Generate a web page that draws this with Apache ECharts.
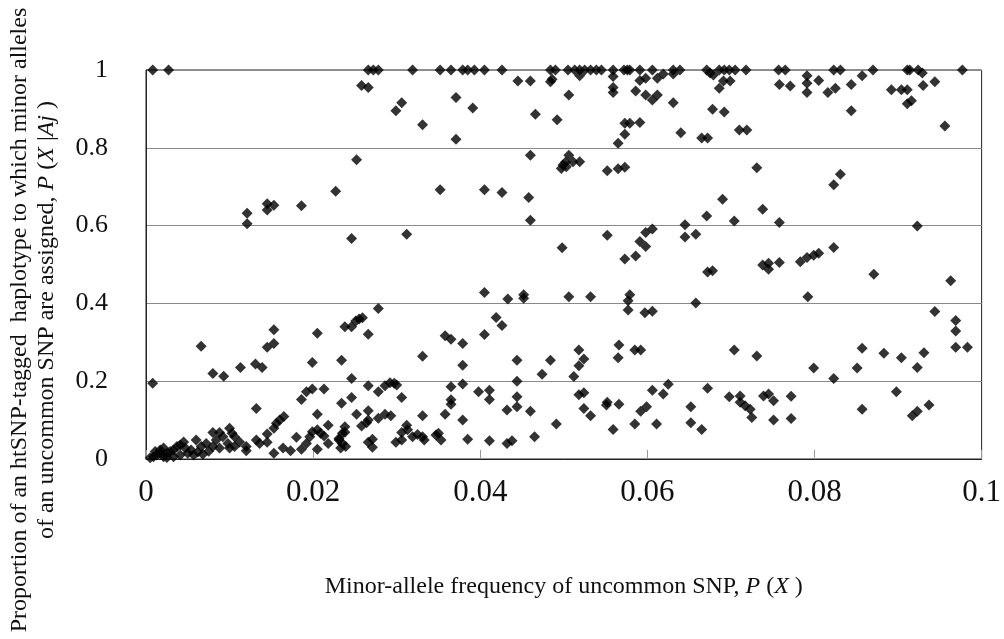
<!DOCTYPE html>
<html>
<head>
<meta charset="utf-8">
<title>htSNP haplotype scatter</title>
<script src="https://cdn.jsdelivr.net/npm/echarts@6/dist/echarts.min.js"></script>
<style>
  html, body { margin: 0; padding: 0; background: #fff; }
  #chart { width: 1004px; height: 639px; }
</style>
</head>
<body>
<div id="chart"></div>
<script>
// x values of the points that sit on P(X|Aj) = 1
const topRowX = [
  0.0008, 0.0027, 0.0266, 0.0272, 0.0278, 0.0319, 0.0352, 0.0365, 0.0379, 0.0385,
  0.0393, 0.0405, 0.0426, 0.0484, 0.0490, 0.0505, 0.0513, 0.0519, 0.0525, 0.0532,
  0.0539, 0.0545, 0.0559, 0.0572, 0.0576, 0.0579, 0.0591, 0.0606, 0.0631, 0.0639,
  0.0671, 0.0686, 0.0692, 0.0698, 0.0705, 0.0718, 0.0757, 0.0765, 0.0823, 0.0831,
  0.0870, 0.0911, 0.0914, 0.0924, 0.0977
];

// [P(X), P(X|Aj)] grouped by frequency band
const band00 = [
  [0.0008, 0.195], [0.0066, 0.29], [0.0080, 0.22], [0.0093, 0.213], [0.0113, 0.235],
  [0.0131, 0.244], [0.0139, 0.235], [0.0145, 0.287], [0.0153, 0.297], [0.0153, 0.332],
  [0.0199, 0.248], [0.0121, 0.632], [0.0121, 0.605], [0.0145, 0.656], [0.0145, 0.64],
  [0.0153, 0.652], [0.0186, 0.651], [0.0132, 0.13], [0.0186, 0.153], [0.0192, 0.173],
  [0.0199, 0.18], [0.0165, 0.109], [0.0160, 0.1], [0.0156, 0.092], [0.0153, 0.079],
  [0.0145, 0.064], [0.0132, 0.049], [0.0136, 0.04], [0.0100, 0.079], [0.0103, 0.066],
  [0.0106, 0.057], [0.0112, 0.044], [0.0080, 0.068], [0.0088, 0.068], [0.0092, 0.057],
  [0.0084, 0.049], [0.0080, 0.032], [0.0088, 0.028], [0.0098, 0.04], [0.0100, 0.028],
  [0.0106, 0.032], [0.0060, 0.049], [0.0072, 0.04], [0.0066, 0.032], [0.0120, 0.032],
  [0.0120, 0.021], [0.0145, 0.043], [0.0153, 0.015], [0.0164, 0.028], [0.0173, 0.021],
  [0.0180, 0.056], [0.0186, 0.025], [0.0192, 0.04], [0.0196, 0.057], [0.0199, 0.07],
  [0.0009, 0.006], [0.0013, 0.01], [0.0017, 0.015], [0.0021, 0.028], [0.0025, 0.015],
  [0.0029, 0.019], [0.0033, 0.023], [0.0037, 0.032], [0.0041, 0.036], [0.0045, 0.044],
  [0.0047, 0.028], [0.0050, 0.015], [0.0054, 0.023], [0.0041, 0.01], [0.0033, 0.006],
  [0.0021, 0.006], [0.0011, 0.019], [0.0017, 0.023], [0.0005, 0.003], [0.0025, 0.004],
  [0.0057, 0.01], [0.0062, 0.018], [0.0068, 0.012], [0.0075, 0.02]
];

const band02 = [
  [0.0205, 0.323], [0.0213, 0.18], [0.0205, 0.115], [0.0218, 0.087], [0.0205, 0.025],
  [0.0205, 0.075], [0.0209, 0.066], [0.0213, 0.059], [0.0218, 0.04], [0.0231, 0.053],
  [0.0233, 0.028], [0.0235, 0.066], [0.0227, 0.688], [0.0246, 0.567], [0.0252, 0.769],
  [0.0258, 0.96], [0.0266, 0.955], [0.0299, 0.895], [0.0306, 0.916], [0.0371, 0.929],
  [0.0391, 0.902], [0.0331, 0.859], [0.0371, 0.822], [0.0352, 0.692], [0.0312, 0.578],
  [0.0278, 0.387], [0.0238, 0.34], [0.0246, 0.34], [0.0251, 0.355], [0.0255, 0.36],
  [0.0259, 0.363], [0.0266, 0.321], [0.0358, 0.317], [0.0365, 0.308], [0.0379, 0.297],
  [0.0331, 0.264], [0.0379, 0.241], [0.0234, 0.254], [0.0246, 0.207], [0.0266, 0.188],
  [0.0278, 0.173], [0.0286, 0.188], [0.0292, 0.196], [0.0297, 0.195], [0.0300, 0.19],
  [0.0306, 0.158], [0.0234, 0.143], [0.0246, 0.158], [0.0252, 0.115], [0.0266, 0.124],
  [0.0266, 0.1], [0.0264, 0.093], [0.0258, 0.085], [0.0278, 0.105], [0.0286, 0.115],
  [0.0293, 0.111], [0.0238, 0.083], [0.0238, 0.069], [0.0231, 0.049], [0.0235, 0.04],
  [0.0239, 0.032], [0.0266, 0.043], [0.0271, 0.051], [0.0271, 0.03], [0.0299, 0.043],
  [0.0306, 0.049], [0.0306, 0.068], [0.0312, 0.087], [0.0313, 0.075], [0.0319, 0.057],
  [0.0325, 0.063], [0.0331, 0.057], [0.0333, 0.049], [0.0331, 0.111], [0.0347, 0.062],
  [0.0350, 0.066], [0.0353, 0.049], [0.0358, 0.115], [0.0365, 0.152], [0.0365, 0.141],
  [0.0365, 0.186], [0.0379, 0.193], [0.0379, 0.1], [0.0385, 0.051], [0.0398, 0.173]
];

const band04 = [
  [0.0405, 0.692], [0.0426, 0.685], [0.0458, 0.672], [0.0460, 0.614], [0.0445, 0.972],
  [0.0460, 0.972], [0.0484, 0.970], [0.0486, 0.976], [0.0466, 0.886], [0.0492, 0.872],
  [0.0460, 0.781], [0.0405, 0.428], [0.0433, 0.411], [0.0452, 0.422], [0.0452, 0.413],
  [0.0405, 0.32], [0.0419, 0.364], [0.0426, 0.343], [0.0444, 0.254], [0.0484, 0.254],
  [0.0474, 0.218], [0.0411, 0.177], [0.0411, 0.153], [0.0411, 0.047], [0.0432, 0.126],
  [0.0444, 0.134], [0.0444, 0.16], [0.0444, 0.2], [0.0460, 0.123], [0.0432, 0.04],
  [0.0438, 0.047], [0.0465, 0.057], [0.0491, 0.09],
  [0.0519, 0.985], [0.0559, 0.983], [0.0591, 0.973], [0.0598, 0.979], [0.0506, 0.936],
  [0.0559, 0.955], [0.0559, 0.942], [0.0586, 0.946], [0.0598, 0.936], [0.0573, 0.863],
  [0.0579, 0.863], [0.0591, 0.865], [0.0573, 0.835], [0.0565, 0.812], [0.0506, 0.781],
  [0.0499, 0.756], [0.0497, 0.747], [0.0503, 0.751], [0.0502, 0.763], [0.0511, 0.764],
  [0.0519, 0.764], [0.0552, 0.741], [0.0565, 0.746], [0.0573, 0.75], [0.0552, 0.575],
  [0.0598, 0.582], [0.0591, 0.559], [0.0598, 0.546], [0.0498, 0.543], [0.0573, 0.514],
  [0.0586, 0.522], [0.0506, 0.417], [0.0532, 0.417], [0.0579, 0.422], [0.0577, 0.407],
  [0.0577, 0.383], [0.0597, 0.376], [0.0518, 0.28], [0.0524, 0.257], [0.0518, 0.24],
  [0.0512, 0.212], [0.0566, 0.293], [0.0565, 0.26], [0.0585, 0.28], [0.0592, 0.28],
  [0.0518, 0.165], [0.0524, 0.17], [0.0524, 0.13], [0.0532, 0.111], [0.0552, 0.146],
  [0.0551, 0.139], [0.0566, 0.141], [0.0559, 0.076], [0.0585, 0.09], [0.0592, 0.123],
  [0.0599, 0.134]
];

const band06 = [
  [0.0606, 0.38], [0.0606, 0.923], [0.0612, 0.979], [0.0619, 0.99], [0.0631, 0.99],
  [0.0612, 0.936], [0.0631, 0.916], [0.0606, 0.591], [0.0645, 0.602], [0.0645, 0.571],
  [0.0658, 0.578], [0.0671, 0.625], [0.0690, 0.668], [0.0704, 0.612], [0.0738, 0.642],
  [0.0731, 0.749], [0.0640, 0.839], [0.0665, 0.825], [0.0672, 0.825], [0.0710, 0.846],
  [0.0719, 0.846], [0.0675, 0.992], [0.0679, 0.987], [0.0691, 0.972], [0.0699, 0.972],
  [0.0686, 0.953], [0.0678, 0.899], [0.0692, 0.892], [0.0672, 0.481], [0.0678, 0.484],
  [0.0658, 0.401], [0.0704, 0.28], [0.0731, 0.265], [0.0611, 0.09], [0.0606, 0.177],
  [0.0619, 0.167], [0.0625, 0.192], [0.0652, 0.134], [0.0652, 0.093], [0.0665, 0.076],
  [0.0672, 0.182], [0.0698, 0.16], [0.0711, 0.162], [0.0711, 0.146], [0.0717, 0.137],
  [0.0723, 0.128], [0.0725, 0.107], [0.0738, 0.499], [0.0745, 0.503], [0.0745, 0.488],
  [0.0758, 0.505], [0.0783, 0.507], [0.0791, 0.518], [0.0758, 0.963], [0.0771, 0.959],
  [0.0791, 0.985], [0.0791, 0.966], [0.0791, 0.942], [0.0758, 0.608], [0.0792, 0.417],
  [0.0739, 0.162], [0.0745, 0.167], [0.0751, 0.15], [0.0772, 0.161], [0.0751, 0.1],
  [0.0772, 0.104], [0.0799, 0.234]
];

const band08 = [
  [0.0799, 0.524], [0.0805, 0.529], [0.0823, 0.544], [0.0831, 0.732], [0.0823, 0.705],
  [0.0805, 0.973], [0.0816, 0.942], [0.0825, 0.953], [0.0844, 0.963], [0.0857, 0.985],
  [0.0892, 0.949], [0.0904, 0.949], [0.0911, 0.949], [0.0911, 0.913], [0.0916, 0.921],
  [0.0930, 0.96], [0.0944, 0.97], [0.0844, 0.895], [0.0956, 0.856], [0.0923, 0.599],
  [0.0871, 0.475], [0.0963, 0.458], [0.0944, 0.379], [0.0969, 0.356], [0.0969, 0.329],
  [0.0969, 0.287], [0.0983, 0.287], [0.0883, 0.272], [0.0904, 0.26], [0.0931, 0.273],
  [0.0923, 0.235], [0.0898, 0.173], [0.0937, 0.139], [0.0923, 0.123], [0.0917, 0.111],
  [0.0857, 0.285], [0.0851, 0.234], [0.0823, 0.207], [0.0857, 0.128], [0.0929, 0.992]
];

const xTicks = { min: 0, max: 0.1, step: 0.02 };
const yTicks = { min: 0, max: 1, step: 0.2 };

const serif = "'Liberation Serif', 'Times New Roman', serif";

const allPoints = topRowX.map(x => [x, 1])
  .concat(band00, band02, band04, band06, band08);

const myChart = echarts.init(document.getElementById('chart'));

const option = {
  backgroundColor: '#fff',
  animation: false,
  grid: {
    left: 146,
    right: 19,
    top: 70,
    bottom: 180,
    show: true,
    borderColor: '#222',
    borderWidth: 1
  },
  xAxis: {
    type: 'value',
    min: xTicks.min,
    max: xTicks.max,
    interval: xTicks.step,
    name: '{n|Minor-allele frequency of uncommon SNP, }{i|P}{n| (}{i|X}{n| )}',
    nameLocation: 'middle',
    nameGap: 116,
    nameTextStyle: {
      rich: {
        n: { fontFamily: serif, fontSize: 24, color: '#111' },
        i: { fontFamily: serif, fontSize: 24, fontStyle: 'italic', color: '#111' }
      }
    },
    axisLine: { show: true, lineStyle: { color: '#222' } },
    axisTick: { show: true, inside: true, length: 9, lineStyle: { color: '#999' } },
    axisLabel: {
      margin: 18,
      fontFamily: serif,
      fontSize: 31,
      color: '#111',
      formatter: v => String(parseFloat(v.toFixed(3)))
    },
    splitLine: { show: false }
  },
  yAxis: {
    type: 'value',
    min: yTicks.min,
    max: yTicks.max,
    interval: yTicks.step,
    axisLine: { show: true, lineStyle: { color: '#222' } },
    axisTick: { show: false },
    axisLabel: {
      margin: 38,
      fontFamily: serif,
      fontSize: 26,
      color: '#111',
      formatter: v => String(parseFloat(v.toFixed(2)))
    },
    splitLine: { show: true, lineStyle: { color: '#8a8a8a', width: 1 } }
  },
  graphic: [
    {
      type: 'text',
      x: 33,
      y: 320,
      rotation: Math.PI / 2,
      style: {
        text: '{n|Proportion of an htSNP-tagged  haplotype to which minor alleles}\n' +
              '{n|of an uncommon SNP are assigned, }{i|P}{n| (}{i|X}{n| |}{i|Aj}{n| )}',
        align: 'center',
        verticalAlign: 'middle',
        lineHeight: 27,
        rich: {
          n: { fontFamily: serif, fontSize: 24, fill: '#111', lineHeight: 27 },
          i: { fontFamily: serif, fontSize: 24, fontStyle: 'italic', fill: '#111', lineHeight: 27 }
        }
      }
    }
  ],
  series: [
    {
      name: 'SNP',
      type: 'scatter',
      symbol: 'diamond',
      symbolSize: 11,
      clip: false,
      itemStyle: { color: '#000' },
      data: allPoints
    }
  ]
};

option && myChart.setOption(option);
</script>
</body>
</html>
